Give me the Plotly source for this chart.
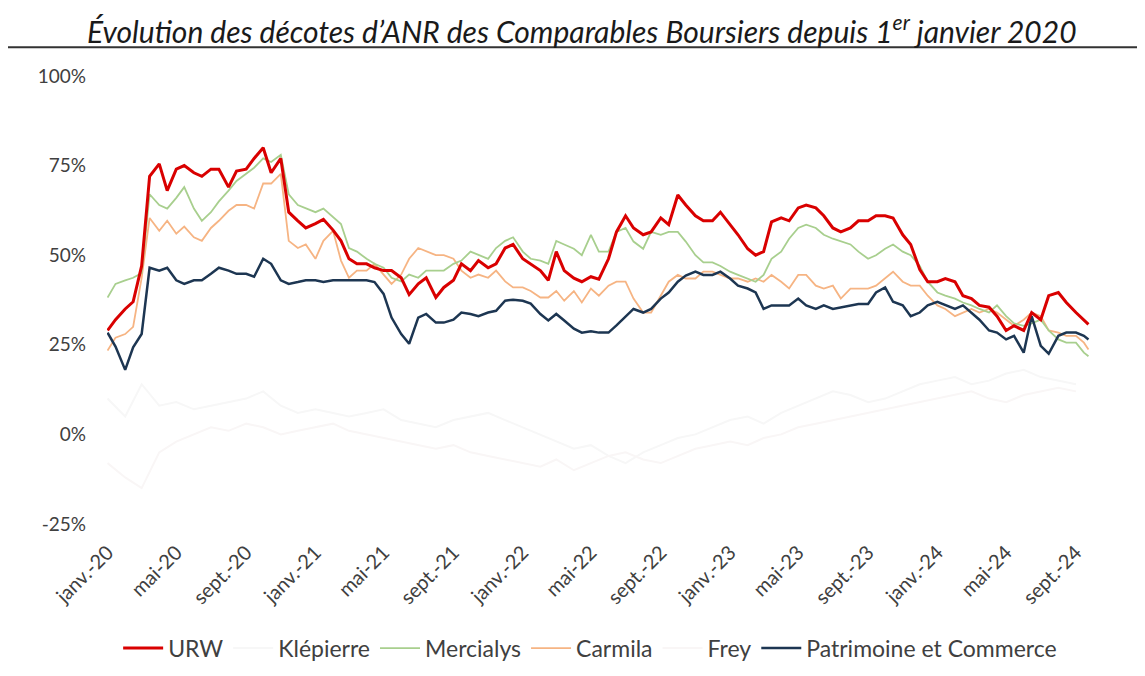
import plotly.graph_objects as go

# semi-monthly dates (1st and 15th) from janv. 2020 to sept. 2024, last point end of sept. 2024
dates = []
for yr in range(2020, 2025):
    for mo in range(1, 13):
        if yr == 2024 and mo > 9:
            break
        dates.append(f"{yr}-{mo:02d}-01")
        dates.append(f"{yr}-{mo:02d}-15")
dates.append("2024-09-23")

# monthly dates for the two very faint series
dates_m = [d for d in dates if d.endswith("-01")]

urw = [
    29, 32, 35, 37, 47, 72, 75.5, 68, 74, 75, 73, 72, 74, 74, 69, 73.5, 74, 77, 80, 73, 77, 62, 59.6, 57.6,
    58.8, 60, 57, 54, 49, 47.6, 47.6, 46.5, 45.7, 45.7, 43.7, 39, 42, 43.7, 38.2, 41, 43, 47.6, 45.7, 48.5, 46.5, 47.6, 52, 53,
    49, 47.6, 45.7, 43, 51, 45.7, 43.6, 42.6, 44, 43.3, 49, 56.5, 61, 57.6, 55.7, 56.5, 60.4, 58.5, 66.8, 64, 61, 59.6, 59.6, 62,
    58.5, 55.7, 51.8, 50, 51, 59.3, 60.4, 59.6, 63.2, 64, 63.2, 61, 57.6, 56.5, 57.6, 59.6, 59.6, 61, 61, 60.4, 55.7, 53, 46, 42.6,
    42.6, 43.5, 42.6, 38.7, 37.9, 36, 35.5, 33, 29, 30.3, 29, 34, 32, 38.7, 39.6, 36.8, 34, 31.8, 30.7,
]
mercialys = [
    38.2, 42, 43, 43.7, 45, 67, 64, 63, 66, 69, 63, 59.6, 62, 65, 68, 70.7, 72.7, 74.4, 77, 76, 78, 67, 64, 63,
    62, 63, 60.5, 58.7, 52, 51, 49, 47.6, 46.5, 43.7, 42.7, 44.6, 43.7, 45.7, 45.7, 45.7, 47.6, 48.5, 51, 50, 49, 52, 54, 55,
    51, 49, 48.5, 47.6, 54, 53, 51.8, 50, 55.7, 51, 51, 56.5, 57.6, 53.8, 51.8, 56.5, 55.7, 56.5, 56.5, 53.8, 50, 48, 48, 47,
    45.4, 44.5, 43.5, 42.6, 44.5, 49, 51, 54.6, 57.6, 58.5, 57.6, 55.7, 54.6, 53.8, 53, 51, 49, 50, 51.8, 53, 51, 50, 47, 42.6,
    39.6, 38.7, 37.9, 36.8, 36, 35, 34, 36, 33, 31, 30.3, 31, 32, 29, 26.5, 25.6, 25.6, 22.8, 21.8,
]
carmila = [
    23.4, 27, 28, 30, 43.7, 60.4, 56.8, 59.6, 56, 58, 55, 54, 57.6, 59.6, 62.4, 64, 64, 63, 70, 70, 72.7, 54, 52, 53,
    49, 54, 56.8, 48.5, 43.7, 45.7, 45.7, 47.6, 44.6, 42, 44.6, 49, 52, 51, 50, 50, 49, 45.7, 43.7, 44.6, 43.7, 45.7, 42.7, 41,
    41, 40, 38.2, 38.2, 40, 37.3, 40, 36.8, 40.7, 38.7, 41.5, 42.6, 42.6, 37.9, 34, 34, 38.7, 42.6, 44.5, 43.5, 43.5, 45.4, 45.4, 44.5,
    43.5, 43.5, 42.6, 43.5, 42.6, 44.5, 42.6, 40.7, 44.5, 44.5, 41.5, 40.7, 41.5, 37.9, 40.7, 40.7, 40.7, 41.5, 43.5, 45.4, 42.6, 41.5, 41.5, 38.7,
    36, 35, 33, 34, 35, 34, 35, 34, 32, 30.3, 32, 34, 33, 29, 28.4, 27.5, 27.5, 25.6, 23.7,
]
patrimoine = [
    28.4, 24.5, 18, 24.3, 28, 46.5, 45.7, 46.5, 43, 42, 43, 43, 44.8, 46.5, 45.7, 44.8, 44.8, 44, 49, 47.6, 43, 42, 42.5, 43,
    43, 42.5, 43, 43, 43, 43, 43, 42.5, 39.2, 32.6, 28, 25.3, 32.6, 33.6, 31.2, 31.2, 32, 34, 33.6, 33, 34, 34.5, 37.3, 37.6,
    37.3, 36.5, 33.6, 31.8, 33.6, 31.8, 29.5, 28.4, 28.8, 28.4, 28.4, 30.4, 33, 35, 34, 35, 37.9, 39.6, 42.6, 44.3, 45.4, 44.5, 44.5, 45.4,
    43.5, 41.5, 40.7, 39.6, 35, 36, 36, 36, 37.9, 36, 35, 36, 35, 35.5, 36, 36.4, 36.4, 39.6, 41, 37, 36, 33, 34, 36,
    37, 36, 35, 36, 34, 32, 29, 28.4, 26.5, 27.5, 22.8, 33, 24.7, 22.5, 27.5, 28.4, 28.4, 27.5, 26.5,
]
klepierre = [
    10, 5, 14, 8, 9, 7, 8, 9, 10, 12, 8, 6,
    7, 6, 5, 6, 7, 4, 3, 2, 4, 5, 6, 4,
    2, 0, -2, -4, -3, -6, -8, -5, -3, -1, 0, 2,
    4, 5, 3, 6, 8, 10, 12, 11, 9, 10, 12, 14,
    15, 16, 14, 15, 17, 18, 16, 15, 14,
]
frey = [
    -8, -12, -15, -5, -2, 0, 2, 1, 3, 2, 0, 1,
    2, 3, 1, 0, -1, -2, -3, -4, -3, -5, -6, -7,
    -8, -9, -7, -10, -8, -6, -5, -7, -8, -6, -4, -3,
    -2, -3, -1, 0, 2, 3, 4, 5, 6, 7, 8, 9,
    10, 11, 12, 10, 9, 11, 12, 13, 12,
]

tick_dates = ["2020-01-01", "2020-05-01", "2020-09-01", "2021-01-01", "2021-05-01", "2021-09-01",
              "2022-01-01", "2022-05-01", "2022-09-01", "2023-01-01", "2023-05-01", "2023-09-01",
              "2024-01-01", "2024-05-01", "2024-09-01"]
tick_labels = ["janv.-20", "mai-20", "sept.-20", "janv.-21", "mai-21", "sept.-21",
               "janv.-22", "mai-22", "sept.-22", "janv.-23", "mai-23", "sept.-23",
               "janv.-24", "mai-24", "sept.-24"]
y_ticks = [-25, 0, 25, 50, 75, 100]
y_labels = ["-25%", "0%", "25%", "50%", "75%", "100%"]

fig = go.Figure()
# ordre de tracé : lignes pâles d'abord, URW au-dessus
fig.add_trace(go.Scatter(x=dates_m, y=klepierre, name="Klépierre", mode="lines",
                         line=dict(color="#f7f7f7", width=2), legendrank=2))
fig.add_trace(go.Scatter(x=dates_m, y=frey, name="Frey", mode="lines",
                         line=dict(color="#f9f6f6", width=2), legendrank=5))
fig.add_trace(go.Scatter(x=dates, y=carmila, name="Carmila", mode="lines",
                         line=dict(color="#f6b483", width=1.8), legendrank=4))
fig.add_trace(go.Scatter(x=dates, y=mercialys, name="Mercialys", mode="lines",
                         line=dict(color="#a8cf8e", width=1.8), legendrank=3))
fig.add_trace(go.Scatter(x=dates, y=patrimoine, name="Patrimoine et Commerce", mode="lines",
                         line=dict(color="#1d3652", width=2.5), legendrank=6))
fig.add_trace(go.Scatter(x=dates, y=urw, name="URW", mode="lines",
                         line=dict(color="#d90000", width=3), legendrank=1))

# la page ajoute 8 px de marge au body : marges décalées d'autant
fig.update_layout(
    width=1145, height=676,
    margin=dict(l=99, r=60, t=68, b=160),
    paper_bgcolor="white", plot_bgcolor="white",
    font=dict(family="Lato, Noto Sans", size=20, color="#404040"),
    showlegend=True,
    legend=dict(orientation="h", x=0.49, xanchor="center", y=-0.277, yanchor="middle",
                font=dict(size=23, color="#404040"), itemwidth=40, traceorder="normal"),
    annotations=[dict(
        text="Évolution des décotes d’ANR des Comparables Boursiers depuis 1<sup>er</sup> janvier 2020",
        xref="paper", yref="paper", x=0.482, y=1.106, xanchor="center", yanchor="middle",
        showarrow=False,
        font=dict(family="Lato", size=30, color="#1a1a1a", style="italic"),
    )],
    shapes=[dict(type="line", xref="paper", yref="paper", x0=-0.105, x1=1.07, y0=1.064, y1=1.064,
                 line=dict(color="#333333", width=2))],
)
fig.update_xaxes(
    type="date", range=["2019-12-31", "2024-10-01"], automargin=False,
    tickvals=tick_dates, ticktext=tick_labels, tickangle=-45,
    showgrid=False, zeroline=False, showline=False, ticks="",
    ticklabelstandoff=12, tickfont=dict(size=20),
)
fig.update_yaxes(
    range=[-25, 100], tickvals=y_ticks, ticktext=y_labels, automargin=False,
    showgrid=False, zeroline=False, showline=False, ticks="",
    ticklabelstandoff=20, tickfont=dict(size=19),
)

fig.write_html("out.html")
